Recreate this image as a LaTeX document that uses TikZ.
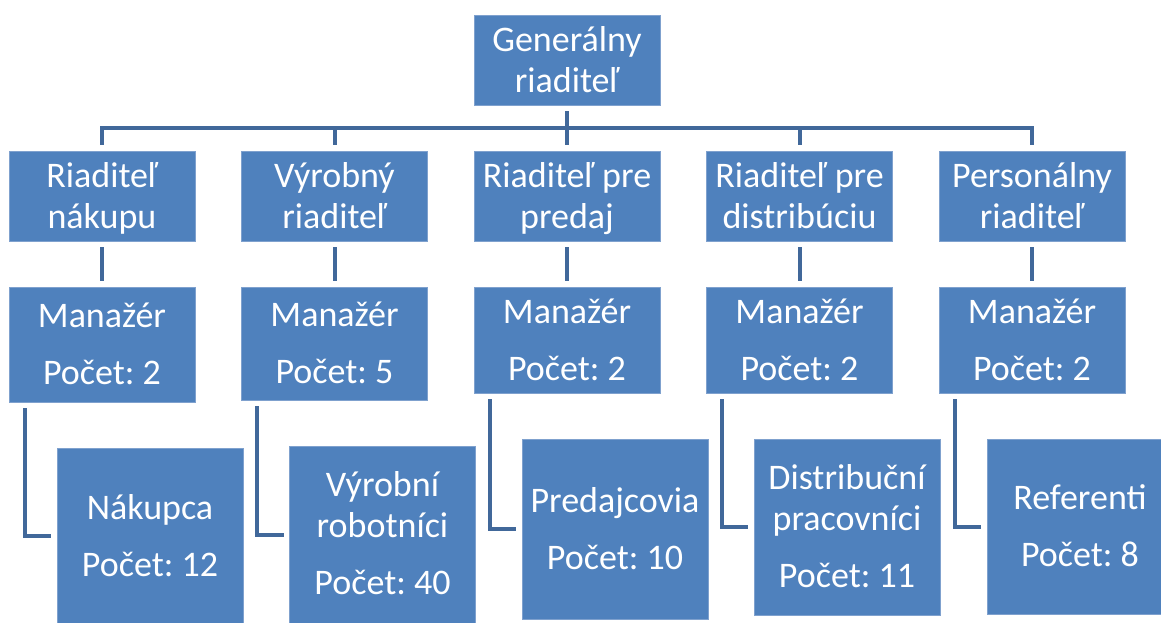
\documentclass[tikz,border=0pt]{standalone}
\usepackage{fontspec}
\setmainfont{Carlito}
\frenchspacing
\definecolor{boxfill}{HTML}{4F81BD}
\definecolor{boxline}{HTML}{7FA1CE}
\definecolor{conncol}{HTML}{41689A}
\begin{document}
\begin{tikzpicture}[x=1pt,y=-1pt,
  box/.style={rectangle, fill=boxfill, draw=boxline, line width=0.8pt, inner sep=0pt,
    minimum width=186pt, text=white, align=center,
    font=\fontsize{36}{41}\selectfont\frenchspacing, text depth=0pt},
  twol/.style={text height=64pt},
  cntl/.style={text height=80pt},
  threel/.style={text height=120pt},
  conn/.style={draw=conncol, line width=4pt}
]
\useasboundingbox (0,0) rectangle (1161,622);
\coordinate (busy) at (0,128);

% top
\node[box,twol,minimum height=90pt] (g) at (567,60) {Generálny\\riaditeľ};

% row 1
\node[box,twol,minimum height=90pt] (r1) at (102,196) {Riaditeľ\\nákupu};
\node[box,twol,minimum height=90pt] (r2) at (334.5,196) {Výrobný\\riaditeľ};
\node[box,twol,minimum height=90pt] (r3) at (567,196) {Riaditeľ pre\\predaj};
\node[box,twol,minimum height=90pt] (r4) at (799.5,196) {Riaditeľ pre\\distribúciu};
\node[box,twol,minimum height=90pt] (r5) at (1032,196) {Personálny\\riaditeľ};

% row 2
\node[box,cntl,minimum height=115pt] (m1) at (102,344.5) {Manažér\\[16pt]Počet: 2};
\node[box,cntl,minimum height=113pt] (m2) at (334.5,343.5) {Manažér\\[16pt]Počet: 5};
\node[box,cntl,minimum height=106pt] (m3) at (567,340) {Manažér\\[16pt]Počet: 2};
\node[box,cntl,minimum height=106pt] (m4) at (799.5,340) {Manažér\\[16pt]Počet: 2};
\node[box,cntl,minimum height=106pt] (m5) at (1032,340) {Manažér\\[16pt]Počet: 2};

% row 3
\node[box,cntl,minimum height=176pt] (w1) at (150,536) {Nákupca\\[16pt]Počet: 12};
\node[box,threel,minimum height=177pt] (w2) at (382.5,534.5) {Výrobní\\robotníci\\[16pt]Počet: 40};
\node[box,cntl,minimum height=180pt] (w3) at (615,529) {Predajcovia\\[16pt]Počet: 10};
\node[box,threel,minimum height=176pt] (w4) at (847,527) {Distribuční\\pracovníci\\[16pt]Počet: 11};
\node[box,cntl,minimum height=175pt] (w5) at (1080,526.5) {Referenti\\[16pt]Počet: 8};

% bus
\draw[conn] ([yshift=-6pt]g.south) -- ([yshift=6pt]r3.north);
\draw[conn] ([yshift=6pt]r1.north) -- (r1.north |- busy) -- (r5.north |- busy) -- ([yshift=6pt]r5.north);
\draw[conn] (r2.north |- busy) -- ([yshift=6pt]r2.north);
\draw[conn] (r4.north |- busy) -- ([yshift=6pt]r4.north);

% row1 -> row2
\foreach \i in {1,...,5}{
  \draw[conn] ([yshift=-6pt]r\i.south) -- ([yshift=5.5pt]m\i.north);
}

% row2 -> row3
\foreach \i in {1,...,5}{
  \draw[conn] ([xshift=16pt,yshift=-6pt]m\i.south west) |- ([xshift=-5.5pt]w\i.west);
}
\end{tikzpicture}
\end{document}
